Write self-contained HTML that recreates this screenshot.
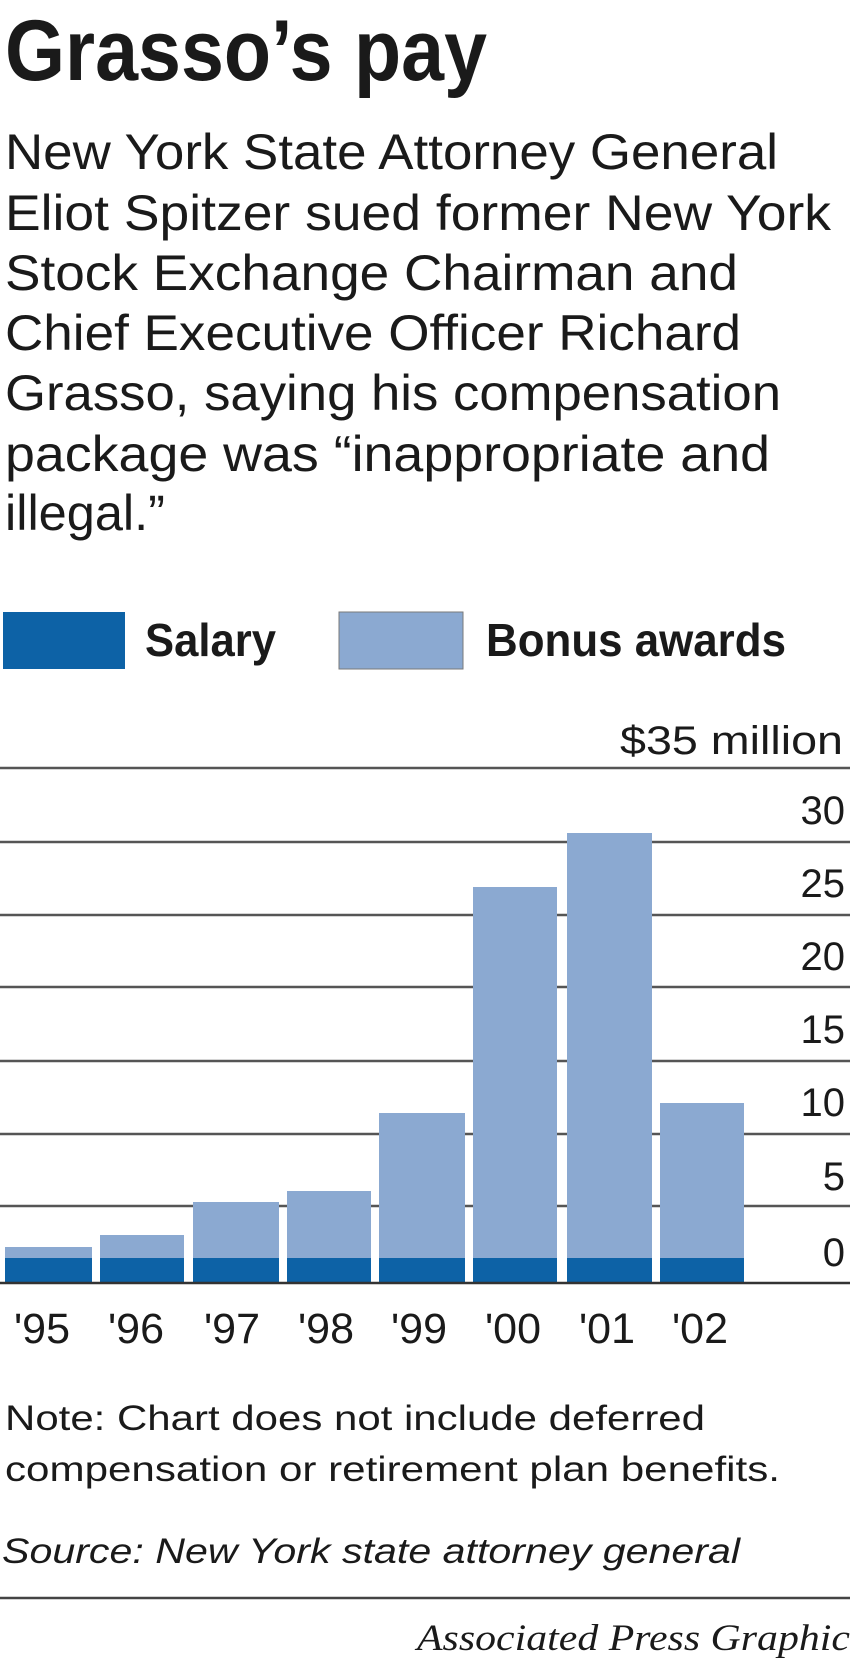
<!DOCTYPE html>
<html><head><meta charset="utf-8"><style>
html,body{margin:0;padding:0;background:#fff;}
svg{display:block;}
</style></head><body>
<svg width="850" height="1660" viewBox="0 0 850 1660" xmlns="http://www.w3.org/2000/svg">
<g fill="#1a1a1a" font-family="Liberation Sans, sans-serif">
<text x="5" y="80" font-size="86" font-weight="bold" textLength="482" lengthAdjust="spacingAndGlyphs">Grasso’s pay</text>
<g font-size="50">
<text x="5" y="169" textLength="773" lengthAdjust="spacingAndGlyphs">New York State Attorney General</text>
<text x="5" y="230" textLength="826" lengthAdjust="spacingAndGlyphs">Eliot Spitzer sued former New York</text>
<text x="5" y="290" textLength="733" lengthAdjust="spacingAndGlyphs">Stock Exchange Chairman and</text>
<text x="5" y="350" textLength="736" lengthAdjust="spacingAndGlyphs">Chief Executive Officer Richard</text>
<text x="5" y="410" textLength="776" lengthAdjust="spacingAndGlyphs">Grasso, saying his compensation</text>
<text x="5" y="471" textLength="765" lengthAdjust="spacingAndGlyphs">package was “inappropriate and</text>
<text x="5" y="530" textLength="160" lengthAdjust="spacingAndGlyphs">illegal.”</text>
</g>
<rect x="3" y="612" width="122" height="57" fill="#0d62a6"/>
<text x="145" y="656" font-size="46" font-weight="bold" textLength="131" lengthAdjust="spacingAndGlyphs">Salary</text>
<rect x="339" y="612" width="124" height="57" fill="#8ba9d1" stroke="#7a7a7a" stroke-width="1"/>
<text x="486" y="656" font-size="46" font-weight="bold" textLength="300" lengthAdjust="spacingAndGlyphs">Bonus awards</text>

<text x="843" y="754" font-size="40" text-anchor="end" textLength="223" lengthAdjust="spacingAndGlyphs">$35 million</text>
<g stroke="#555" stroke-width="2.5">
<line x1="0" x2="850" y1="768" y2="768"/>
<line x1="0" x2="850" y1="842" y2="842"/>
<line x1="0" x2="850" y1="915" y2="915"/>
<line x1="0" x2="850" y1="987" y2="987"/>
<line x1="0" x2="850" y1="1061" y2="1061"/>
<line x1="0" x2="850" y1="1134" y2="1134"/>
<line x1="0" x2="850" y1="1206" y2="1206"/>
</g>
<g font-size="40" text-anchor="end">
<text x="845" y="824">30</text>
<text x="845" y="897">25</text>
<text x="845" y="970">20</text>
<text x="845" y="1043">15</text>
<text x="845" y="1116">10</text>
<text x="845" y="1190">5</text>
<text x="845" y="1266">0</text>
</g>
<g fill="#8ba9d1">
<rect x="5" y="1247" width="87" height="36"/>
<rect x="100" y="1235" width="84" height="48"/>
<rect x="193" y="1202" width="86" height="81"/>
<rect x="287" y="1191" width="84" height="92"/>
<rect x="379" y="1113" width="86" height="170"/>
<rect x="473" y="887" width="84" height="396"/>
<rect x="567" y="833" width="85" height="450"/>
<rect x="660" y="1103" width="84" height="180"/>
</g>
<g fill="#0d62a6">
<rect x="5" y="1258" width="87" height="25"/>
<rect x="100" y="1258" width="84" height="25"/>
<rect x="193" y="1258" width="86" height="25"/>
<rect x="287" y="1258" width="84" height="25"/>
<rect x="379" y="1258" width="86" height="25"/>
<rect x="473" y="1258" width="84" height="25"/>
<rect x="567" y="1258" width="85" height="25"/>
<rect x="660" y="1258" width="84" height="25"/>
</g>
<line x1="0" x2="850" y1="1283" y2="1283" stroke="#333" stroke-width="2.5"/>
<g font-size="43" text-anchor="middle">
<text x="42" y="1343">'95</text>
<text x="136" y="1343">'96</text>
<text x="232" y="1343">'97</text>
<text x="326" y="1343">'98</text>
<text x="419" y="1343">'99</text>
<text x="513" y="1343">'00</text>
<text x="607" y="1343">'01</text>
<text x="700" y="1343">'02</text>
</g>
<g font-size="35">
<text x="5" y="1430" textLength="700" lengthAdjust="spacingAndGlyphs">Note: Chart does not include deferred</text>
<text x="5" y="1481" textLength="775" lengthAdjust="spacingAndGlyphs">compensation or retirement plan benefits.</text>
<text x="2" y="1563" font-style="italic" textLength="738" lengthAdjust="spacingAndGlyphs">Source: New York state attorney general</text>
</g>
<line x1="0" x2="850" y1="1598" y2="1598" stroke="#444" stroke-width="2.5"/>
<text x="417" y="1650" font-family="Liberation Serif, serif" font-style="italic" font-size="37" textLength="433" lengthAdjust="spacingAndGlyphs">Associated Press Graphic</text>
</g>
</svg>
</body></html>
